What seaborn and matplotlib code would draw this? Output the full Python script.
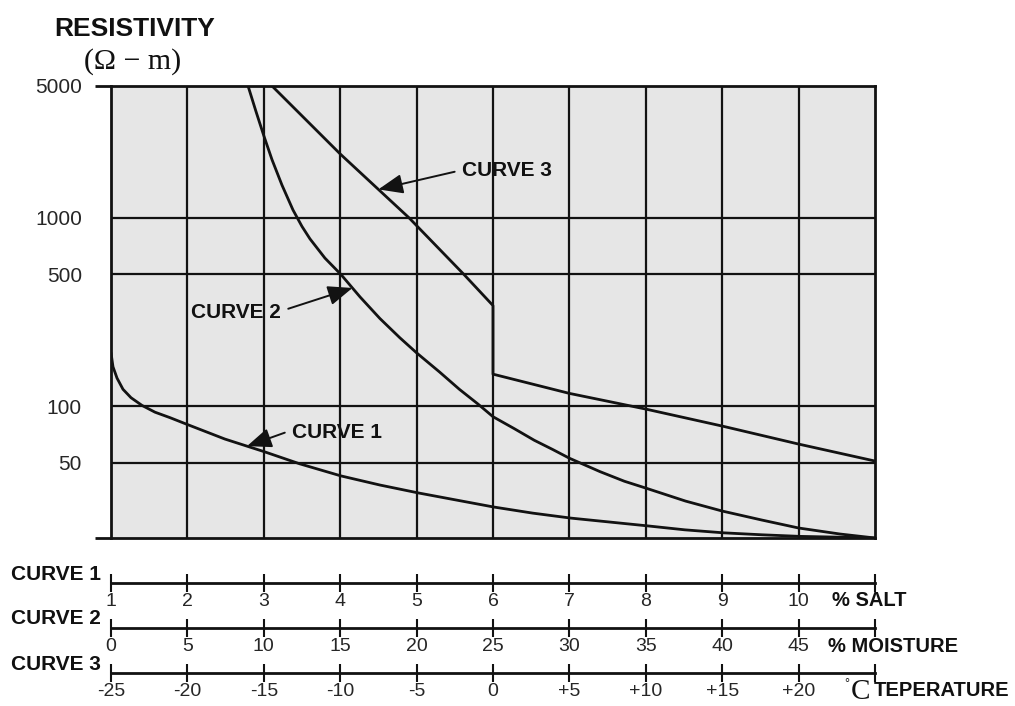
import numpy as np
import pandas as pd
import matplotlib
matplotlib.use("Agg")
import matplotlib.pyplot as plt
import seaborn as sns

# ---- data -------------------------------------------------------------
# Curve 1: resistivity (ohm-m) against salt content (%)
salt_pct = [1.0, 1.026, 1.079, 1.157, 1.262, 1.406, 1.576, 1.772, 2.0, 2.49, 3.0,
            3.47, 4.01, 4.52, 5.02, 5.52, 6.01, 6.52, 7.02, 7.53, 8.02, 8.51,
            9.02, 9.52, 10.02, 10.54, 11.0]
salt_res = [192, 162, 141, 123, 111, 101, 93, 87, 80, 67, 57.5,
            49.5, 42.7, 38.2, 34.7, 31.8, 29.2, 27.1, 25.5, 24.3, 23.2, 22.1,
            21.3, 20.8, 20.4, 20.2, 20]

# Curve 2: resistivity against moisture content (%)
moist_pct = [8.97, 9.49, 10.01, 10.54, 11.19, 11.91, 12.5, 13.02, 14.0, 15.05,
             16.3, 17.6, 18.9, 20, 21.5, 22.8, 24, 25, 26.4, 27.7, 28.9, 30, 32,
             33.6, 35, 37.6, 40, 42.6, 45, 47.7, 50]
moist_res = [5000, 3660, 2710, 2030, 1490, 1100, 899, 773, 611, 500,
             380, 292, 231, 192, 152, 123, 103, 88, 76, 66, 59, 53, 45,
             40, 36.8, 31.4, 27.8, 24.9, 22.6, 21, 20]

# Curve 3: resistivity against temperature (deg C), with the step at freezing
temp_c = [-14.46, -10, -5.5, -1.9, 0, 0, 5, 10, 15, 20, 25]
temp_res = [5000, 2180, 1000, 500, 342, 148, 117, 96.6, 78.5, 63, 51.2]

# resistivity axis
y_range = [20, 5000]
y_grid = [50, 100, 500, 1000]
y_grid_labels = ["50", "100", "500", "1000"]

# the three companion scales under the chart
salt_ticks = list(range(1, 12))
salt_labels = [str(v) for v in range(1, 11)] + [""]
moist_ticks = list(range(0, 51, 5))
moist_labels = [str(v) for v in range(0, 46, 5)] + [""]
temp_ticks = list(range(-25, 26, 5))
temp_labels = ["-25", "-20", "-15", "-10", "-5", "0", "+5", "+10", "+15", "+20", ""]
scale_names = ["CURVE 1", "CURVE 2", "CURVE 3"]
scale_units = ["% SALT", "% MOISTURE", "TEPERATURE"]

# where each curve's arrow points (in that curve's own units)
arrow_at = {"CURVE 1": 2.78, "CURVE 2": 15.8, "CURVE 3": -7.5}

# ---- style ------------------------------------------------------------
sns.set_theme(style="white")
plt.rcParams["font.family"] = ["Liberation Sans", "DejaVu Sans"]
plt.rcParams["text.color"] = "#111111"

W, H = 1015, 706
fig = plt.figure(figsize=(W / 100, H / 100), dpi=100)
fig.patch.set_facecolor("white")


def fx(px):
    return px / W


def fy(py):
    return 1 - py / H


INK = "#121212"
left, right, top, bottom = 111, 875, 86, 538
ax = fig.add_axes([fx(left), fy(bottom), fx(right - left), (bottom - top) / H])
ax.set_facecolor("#e6e6e6")
ax.set_yscale("log")

# one hidden x-scale per curve, all sharing the resistivity axis
curves = [
    ("CURVE 1", salt_pct, salt_res, (salt_ticks[0], salt_ticks[-1])),
    ("CURVE 2", moist_pct, moist_res, (moist_ticks[0], moist_ticks[-1])),
    ("CURVE 3", temp_c, temp_res, (temp_ticks[0], temp_ticks[-1])),
]
twins = {}
for name, xs, ys, lim in curves:
    tw = ax.twiny()
    df = pd.DataFrame({"x": xs, "y": ys})
    sns.lineplot(data=df, x="x", y="y", ax=tw, estimator=None, sort=False,
                 color=INK, linewidth=2.0)
    tw.set_xlim(*lim)
    tw.set_axis_off()
    twins[name] = (tw, xs, ys)

ax.set_xlim(0, 10)
ax.set_ylim(*y_range)

# grid: ten equal columns, horizontal rules at the labelled resistivities
ax.set_xticks(range(1, 10))
ax.tick_params(axis="x", length=0, labelbottom=False)
ax.grid(True, which="major", axis="x", color=INK, linewidth=1.6)
ax.set_yticks(y_range, ["", "5000"])
ax.set_yticks(y_grid, y_grid_labels, minor=True)
ax.grid(True, which="minor", axis="y", color=INK, linewidth=1.6)
ax.grid(False, which="major", axis="y")
ax.tick_params(axis="y", which="major", left=True, direction="out", length=11.5,
               width=2.0, color=INK, pad=9, labelsize=15)
ax.tick_params(axis="y", which="minor", left=True, length=0, pad=21, labelsize=15)
for s in ax.spines.values():
    s.set_color(INK)
    s.set_linewidth(2.0)
ax.set_xlabel("")
ax.set_ylabel("")

# axis title
fig.text(fx(135), fy(29), "RESISTIVITY", ha="center", va="center",
         fontsize=19, fontweight="bold")
fig.text(fx(133), fy(62), "(\u03a9 \u2212 m)", ha="center", va="center",
         fontsize=21.5, family=["Liberation Serif", "DejaVu Serif"])

# curve call-outs
callouts = [
    ("CURVE 1", (292, 432), "left", (0.0, 0.6)),
    ("CURVE 2", (281, 313), "right", (1.0, 0.6)),
    ("CURVE 3", (462, 171), "left", (0.0, 0.55)),
]
for name, (tx, ty), ha, rel in callouts:
    tw, xs, ys = twins[name]
    xa = arrow_at[name]
    ya = float(np.exp(np.interp(xa, xs, np.log(ys))))
    ax.annotate(name, xy=(xa, ya), xycoords=tw.transData,
                xytext=(tx, H - ty), textcoords="figure pixels",
                ha=ha, va="center", fontsize=15, fontweight="bold",
                arrowprops=dict(arrowstyle="-|>,head_length=1.0,head_width=0.4",
                                color=INK, lw=1.4, shrinkA=3, shrinkB=0,
                                relpos=rel))

# companion scales
scale_rows = [
    (583, salt_ticks, salt_labels),
    (628, moist_ticks, moist_labels),
    (673, temp_ticks, temp_labels),
]
for (ypx, ticks, labels), name in zip(scale_rows, scale_names):
    sax = fig.add_axes([fx(left), fy(ypx), fx(right - left), 0.0005])
    sax.patch.set_visible(False)
    sax.set_xlim(ticks[0], ticks[-1])
    sax.set_ylim(0, 1)
    for s in ("left", "right", "top"):
        sax.spines[s].set_visible(False)
    sax.spines["bottom"].set_linewidth(2.0)
    sax.spines["bottom"].set_color(INK)
    sax.set_yticks([])
    sax.set_xticks(ticks, labels)
    sax.tick_params(axis="x", bottom=True, direction="inout", length=13, width=1.5,
                    color=INK, pad=0.5, labelsize=14)
    fig.text(fx(101), fy(ypx - 9), name, ha="right", va="center",
             fontsize=15, fontweight="bold")

fig.text(fx(832), fy(600), scale_units[0], ha="left", va="center",
         fontsize=14.5, fontweight="bold")
fig.text(fx(828), fy(647), scale_units[1], ha="left", va="center",
         fontsize=14.5, fontweight="bold")
fig.text(fx(844), fy(684), "\u00b0", ha="left", va="center", fontsize=9)
fig.text(fx(851), fy(692), "C", ha="left", va="center", fontsize=21,
         family=["Liberation Serif", "DejaVu Serif"])
fig.text(fx(874), fy(691), scale_units[2], ha="left", va="center",
         fontsize=14.5, fontweight="bold")

fig.savefig("out.png", dpi=100, facecolor="white")
